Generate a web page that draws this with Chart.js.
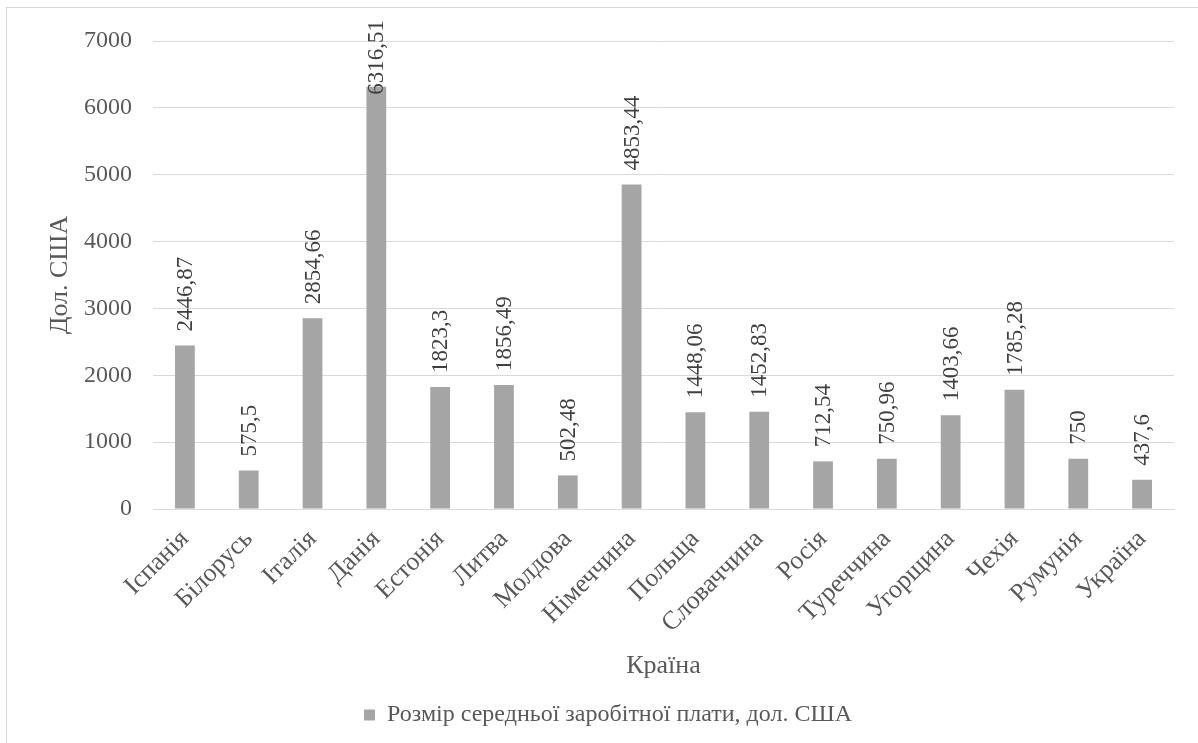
<!DOCTYPE html>
<html>
<head>
<meta charset="utf-8">
<script src="https://cdn.jsdelivr.net/npm/chart.js@4"></script>
<style>
html,body{margin:0;padding:0;background:#fff;overflow:hidden;}
#wrap{position:relative;width:1198px;height:743px;overflow:hidden;}
#frame{position:absolute;left:6px;top:7px;width:1200px;height:750px;border:1px solid #d9d9d9;box-sizing:border-box;pointer-events:none;}
canvas{position:absolute;left:0;top:0;}
</style>
</head>
<body>
<div id="wrap"><canvas id="c" width="1198" height="743"></canvas><div id="frame"></div></div>
<script>
const categories = ["Іспанія","Білорусь","Італія","Данія","Естонія","Литва","Молдова","Німеччина","Польща","Словаччина","Росія","Туреччина","Угорщина","Чехія","Румунія","Україна"];
const wages = [2446.87, 575.5, 2854.66, 6316.51, 1823.3, 1856.49, 502.48, 4853.44, 1448.06, 1452.83, 712.54, 750.96, 1403.66, 1785.28, 750, 437.6];
const valueLabels = ["2446,87","575,5","2854,66","6316,51","1823,3","1856,49","502,48","4853,44","1448,06","1452,83","712,54","750,96","1403,66","1785,28","750","437,6"];
const yTicks = [0,1000,2000,3000,4000,5000,6000,7000];
const seriesName = "Розмір середньої заробітної плати, дол. США";

const FONT = '"Liberation Serif","Times New Roman",serif';
const TXT = '#595959';

const labelPlugin = {
  id: 'valueLabels',
  afterDatasetsDraw(chart) {
    const ctx = chart.ctx;
    const meta = chart.getDatasetMeta(0);
    ctx.save();
    ctx.fillStyle = '#404040';
    ctx.font = '23px ' + FONT;
    ctx.textAlign = 'left';
    ctx.textBaseline = 'middle';
    meta.data.forEach((bar, i) => {
      const w = ctx.measureText(valueLabels[i]).width;
      let start = bar.y - 14;
      if (start - w < 20) start = 20 + w;
      ctx.save();
      ctx.translate(bar.x + 1, start);
      ctx.rotate(-Math.PI / 2);
      ctx.fillText(valueLabels[i], 0, 0);
      ctx.restore();
    });
    ctx.restore();
  }
};

new Chart(document.getElementById('c'), {
  type: 'bar',
  data: {
    labels: categories,
    datasets: [{
      label: seriesName,
      data: wages,
      backgroundColor: '#a5a5a5',
      borderWidth: 0,
      categoryPercentage: 1.0,
      barPercentage: 0.31
    }]
  },
  options: {
    responsive: false,
    animation: false,
    devicePixelRatio: 1,
    layout: { padding: { left: 42, right: 24, top: 41, bottom: 6 } },
    plugins: {
      legend: {
        position: 'bottom',
        labels: {
          font: { family: FONT, size: 24 },
          color: TXT,
          boxWidth: 11,
          boxHeight: 11,
          padding: 10
        }
      },
      tooltip: { enabled: false }
    },
    scales: {
      x: {
        grid: { display: false, drawTicks: false },
        border: { display: true, color: '#d9d9d9', width: 1 },
        ticks: {
          font: { family: FONT, size: 26 },
          color: TXT,
          maxRotation: 45,
          minRotation: 45,
          padding: 15,
          autoSkip: false
        },
        title: {
          display: true,
          text: 'Країна',
          font: { family: FONT, size: 26 },
          color: TXT,
          padding: { top: 0, bottom: 11 }
        },
        afterFit(scale) { scale.height = 184; }
      },
      y: {
        min: 0,
        max: 7000,
        afterBuildTicks(scale) { scale.ticks = yTicks.map(v => ({ value: v })); },
        grid: { color: '#d9d9d9', lineWidth: 1, drawTicks: false },
        border: { display: false },
        ticks: {
          font: { family: FONT, size: 24 },
          color: TXT,
          padding: 21,
          callback: (v) => String(v)
        },
        title: {
          display: true,
          text: 'Дол. США',
          font: { family: FONT, size: 26 },
          color: TXT,
          padding: { top: 3, bottom: 0 }
        },
        afterFit(scale) { scale.width = 111; }
      }
    }
  },
  plugins: [labelPlugin]
});
</script>
</body>
</html>
